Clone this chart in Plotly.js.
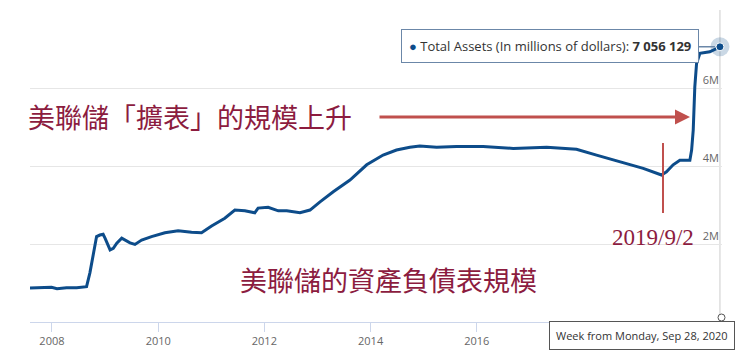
<!DOCTYPE html>
<html>
<head>
<meta charset="utf-8">
<script src="https://cdn.plot.ly/plotly-3.0.1.min.js"></script>
<style>html,body{margin:0;padding:0;background:#fff;}#chart{width:740px;height:358px;}</style>
</head>
<body>
<div id="chart"></div>
<script>
// Total Assets, in millions of dollars (weekly)
const dates = [
  '2007-08-03','2007-10-15','2007-12-29','2008-02-05','2008-04-10','2008-06-19','2008-08-26',
  '2008-09-18','2008-10-11','2008-11-03','2008-11-26','2008-12-18','2008-12-31',
  '2009-02-04','2009-02-26','2009-03-22','2009-04-25','2009-05-17','2009-06-21','2009-07-25',
  '2009-09-09','2009-11-16','2010-02-16','2010-05-18','2010-08-18','2010-10-26',
  '2011-01-03','2011-04-04','2011-06-12','2011-08-20','2011-10-27','2011-11-19',
  '2012-01-27','2012-04-06','2012-06-03','2012-09-02','2012-11-10',
  '2013-01-18','2013-04-19','2013-08-12','2013-12-05','2014-03-28','2014-06-28',
  '2014-09-28','2014-12-05','2015-03-31','2015-08-15','2016-02-14','2016-09-08',
  '2017-04-26','2017-11-17','2018-04-04','2018-09-12','2019-02-19','2019-06-25',
  '2019-07-29','2019-09-13','2019-10-29','2020-01-06','2020-01-18','2020-01-29',
  '2020-02-09','2020-02-21','2020-03-15','2020-05-22','2020-06-27','2020-07-31'
];
const totalAssets = [
  870000,880000,890000,855000,880000,878000,905000,
  1260000,1760000,2190000,2230000,2250000,2150000,
  1850000,1890000,2020000,2150000,2100000,2030000,1990000,
  2100000,2190000,2290000,2340000,2300000,2290000,
  2460000,2660000,2870000,2850000,2800000,2920000,
  2940000,2850000,2850000,2800000,2870000,
  3080000,3340000,3640000,4030000,4280000,4410000,
  4480000,4510000,4480000,4500000,4500000,4450000,
  4480000,4430000,4280000,4110000,3940000,3770000,
  3850000,4030000,4150000,4150000,4410000,4920000,
  6030000,6630000,6890000,6930000,6990000,7056129
];
// x ticks every two years; 2018 and 2020 are hidden under the tooltip in the picture
const xTickVals = ['2008-01-01','2010-01-01','2012-01-01','2014-01-01','2016-01-01','2018-01-01','2020-01-01'];
const xTickText = ['2008','2010','2012','2014','2016','',''];
const yTickVals = [0, 2000000, 4000000, 6000000, 8000000];
const yTickText = ['', '2M', '4M', '6M', ''];
const seriesName = 'Total Assets (In millions of dollars)';
const lastValueText = '7 056 129';
const weekText = 'Week from Monday, Sep 28, 2020';
const title1 = '美聯儲「擴表」的規模上升';
const title2 = '美聯儲的資產負債表規模';
const dateNote = '2019/9/2';

const L = 30, R = 722, T = 10, B = 322;
const px = x => (x - L) / (R - L);
const py = y => (B - y) / (B - T);
const lastX = dates[dates.length - 1];
const lastY = totalAssets[totalAssets.length - 1];
const navy = '#0d4c8a';
const red = '#8c1c3f';

const traces = [
  {x: dates, y: totalAssets, type: 'scatter', mode: 'lines',
   line: {color: navy, width: 3}, hoverinfo: 'skip'},
  {x: [lastX], y: [lastY], type: 'scatter', mode: 'markers', cliponaxis: false,
   marker: {size: 19, color: 'rgba(13,76,138,0.22)'}, hoverinfo: 'skip'},
  {x: [lastX], y: [lastY], type: 'scatter', mode: 'markers', cliponaxis: false,
   marker: {size: 8, color: navy, line: {color: '#ffffff', width: 1}}, hoverinfo: 'skip'}
];

const layout = {
  width: 740, height: 358,
  margin: {l: L, r: 740 - R, t: T, b: 358 - B},
  paper_bgcolor: '#ffffff', plot_bgcolor: '#ffffff',
  showlegend: false,
  font: {family: 'Open Sans, sans-serif', color: '#666666'},
  xaxis: {
    type: 'date', range: ['2007-08-03', '2020-08-14'],
    tickvals: xTickVals, ticktext: xTickText,
    ticks: 'outside', ticklen: 9, tickcolor: '#ccd6eb',
    showline: true, linecolor: '#ccd6eb', linewidth: 1,
    showgrid: false, zeroline: false,
    tickfont: {size: 11, color: '#666666'}
  },
  yaxis: {
    side: 'right', range: [0, 8000000],
    tickvals: yTickVals, ticktext: yTickText,
    ticklabelposition: 'inside top',
    gridcolor: '#e6e6e6', showline: false, zeroline: false, ticks: '',
    tickfont: {size: 11, color: '#666666'}
  },
  shapes: [
    {type: 'line', xref: 'x', yref: 'paper', x0: lastX, x1: lastX, y0: 0, y1: 1,
     line: {color: '#cccccc', width: 1}, layer: 'below'},
    {type: 'line', xref: 'paper', yref: 'paper', x0: px(663), x1: px(663), y0: py(143), y1: py(213),
     line: {color: '#c0504d', width: 2}},
    {type: 'circle', xref: 'paper', yref: 'paper', x0: px(718), x1: px(725), y0: py(321), y1: py(314),
     line: {color: '#555555', width: 1}, fillcolor: '#ffffff'}
  ],
  annotations: [
    {xref: 'paper', yref: 'paper', x: px(190), y: py(116), showarrow: false,
     text: title1, xanchor: 'center', yanchor: 'middle',
     font: {family: 'Noto Sans CJK TC', size: 27, color: red}},
    {xref: 'paper', yref: 'paper', x: px(690), y: py(117), text: '', showarrow: true,
     ax: -(690 - 378), ay: 0, arrowhead: 2, arrowsize: 1, arrowwidth: 3, arrowcolor: '#c0504d'},
    {xref: 'paper', yref: 'paper', x: px(653), y: py(237), showarrow: false,
     text: dateNote, xanchor: 'center', yanchor: 'middle',
     font: {family: 'Liberation Serif', size: 23, color: red}},
    {xref: 'paper', yref: 'paper', x: px(388), y: py(279), showarrow: false,
     text: title2, xanchor: 'center', yanchor: 'middle',
     font: {family: 'Noto Sans CJK TC', size: 27, color: red}},
    {xref: 'x', yref: 'y', x: lastX, y: lastY, showarrow: true,
     ax: -170, ay: -1, arrowhead: 0, arrowwidth: 1.5, arrowcolor: '#6b87a8', standoff: 5,
     text: '<span style="color:' + navy + '">●</span> ' + seriesName + ': <b>' + lastValueText + '</b>',
     font: {family: 'Open Sans', size: 13, color: '#333333'},
     bgcolor: 'rgba(255,255,255,0.96)', bordercolor: '#6b87a8', borderwidth: 1, borderpad: 7},
    {xref: 'paper', yref: 'paper', x: px(642), y: py(335.5), showarrow: false,
     xanchor: 'center', yanchor: 'middle', text: weekText,
     font: {family: 'Open Sans', size: 11, color: '#333333'},
     bgcolor: '#ffffff', bordercolor: '#555555', borderwidth: 1, borderpad: 6}
  ]
};

Plotly.newPlot('chart', traces, layout, {displayModeBar: false, staticPlot: true});
</script>
</body>
</html>
